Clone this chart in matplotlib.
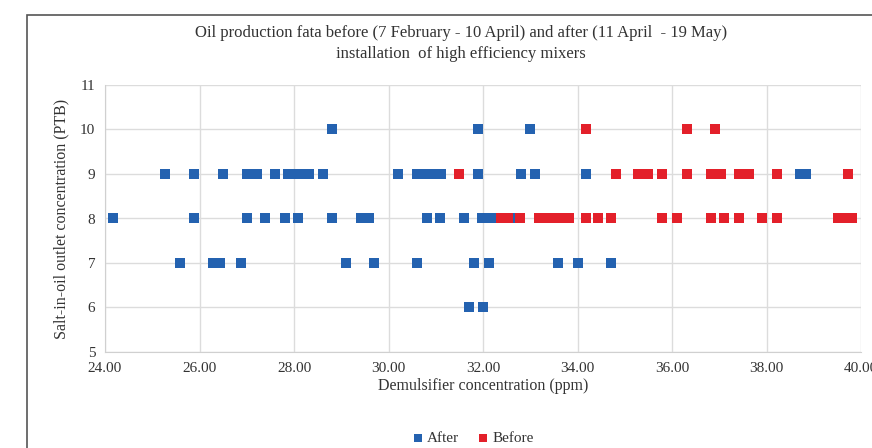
import matplotlib.pyplot as plt
from matplotlib.patches import Rectangle
from matplotlib.ticker import FormatStrFormatter

plt.rcParams['font.family'] = ['Liberation Serif', 'DejaVu Serif']

# demulsifier dose (ppm) grouped by salt-in-oil level (PTB)
after_10 = [28.80, 31.90, 32.99]
after_9 = [25.27, 25.89, 26.49, 27.00, 27.21, 27.60, 27.87, 28.02, 28.17, 28.32,
           28.61, 30.21, 30.60, 30.77, 30.95, 31.11, 31.90, 32.80, 33.10, 34.19,
           38.71, 38.84]
after_8 = [24.16, 25.89, 27.00, 27.39, 27.80, 28.09, 28.80, 29.41, 29.59, 30.81,
           31.10, 31.60, 31.98, 32.18, 32.66]
after_7 = [25.59, 26.28, 26.43, 26.88, 29.09, 29.69, 30.60, 31.81, 32.12, 33.59,
           34.00, 34.70]
after_6 = [31.70, 31.99]

before_10 = [34.19, 36.31, 36.90]
before_9 = [31.49, 34.81, 35.29, 35.50, 35.79, 36.31, 36.83, 37.03, 37.42, 37.63,
            38.22, 39.73]
before_8 = [32.38, 32.53, 32.79, 33.19, 33.38, 33.57, 33.74, 33.83, 34.18, 34.43,
            34.71, 35.79, 36.10, 36.83, 37.11, 37.42, 37.91, 38.22, 39.52, 39.66,
            39.81]

after_groups = {10: after_10, 9: after_9, 8: after_8, 7: after_7, 6: after_6}
before_groups = {10: before_10, 9: before_9, 8: before_8}

after_x = [x for lvl, xs in after_groups.items() for x in xs]
after_y = [lvl for lvl, xs in after_groups.items() for x in xs]
before_x = [x for lvl, xs in before_groups.items() for x in xs]
before_y = [lvl for lvl, xs in before_groups.items() for x in xs]

blue = '#2462b0'
red = '#e3202a'

fig = plt.figure(figsize=(8.72, 4.48), dpi=100)
ax = fig.add_axes([105 / 872, 1 - 352 / 448, 756 / 872, 267 / 448])

ax.scatter(after_x, after_y, marker='s', s=42, color=blue, linewidths=0,
           label='After', zorder=3)
ax.scatter(before_x, before_y, marker='s', s=42, color=red, linewidths=0,
           label='Before', zorder=4)

ax.set_xlim(24, 40)
ax.set_ylim(5, 11)
ax.set_xticks(range(24, 41, 2))
ax.set_yticks(range(5, 12))
ax.xaxis.set_major_formatter(FormatStrFormatter('%.2f'))
ax.grid(True, color='#dcdcdc', linewidth=1)
ax.set_axisbelow(True)
for side in ax.spines:
    ax.spines[side].set_color('#d0d0d0')
ax.spines['top'].set_visible(False)
ax.spines['right'].set_visible(False)
ax.tick_params(length=0, labelsize=11, colors='#333333', pad=7)

ax.set_xlabel('Demulsifier concentration (ppm)', fontsize=11.5, color='#333333',
              labelpad=2)
ax.set_ylabel('Salt-in-oil outlet concentration (PTB)', fontsize=11.5,
              color='#333333', labelpad=8)

fig.text(461 / 872, 1 - 33 / 448,
         'Oil production fata before (7 February - 10 April) and after (11 April  - 19 May)',
         ha='center', va='center', fontsize=12, color='#333333')
fig.text(461 / 872, 1 - 54 / 448, 'installation  of high efficiency mixers',
         ha='center', va='center', fontsize=12, color='#333333')

fig.legend(loc='center', bbox_to_anchor=(468 / 872, 1 - 438 / 448), ncol=2,
           frameon=False, fontsize=11, handletextpad=-0.4, columnspacing=0.6,
           markerscale=0.9, labelcolor='#333333')

# outer chart frame
fig.add_artist(Rectangle((27 / 872, -0.1), 1.0, 1 - 15 / 448 + 0.1,
                         transform=fig.transFigure, fill=False,
                         edgecolor='#555555', linewidth=1.2))

fig.savefig('out.png', dpi=100)
